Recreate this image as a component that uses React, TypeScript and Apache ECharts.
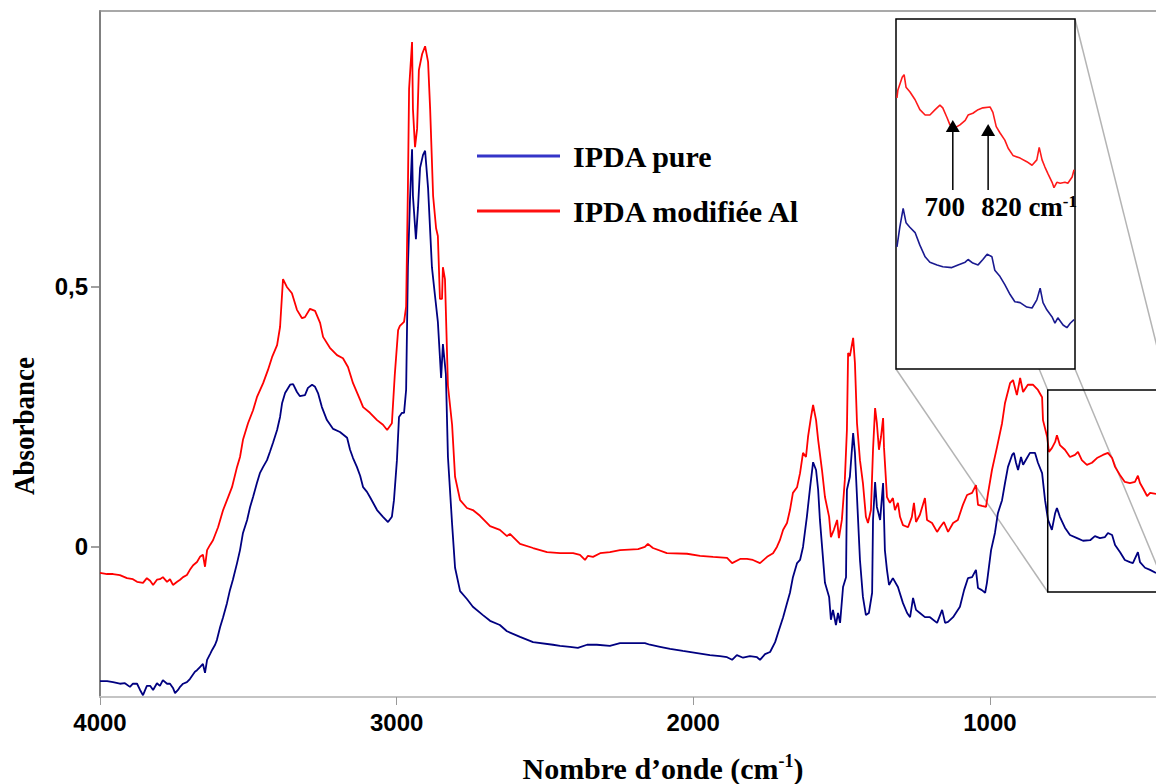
import React, { useEffect, useRef } from 'react';
import * as echarts from 'echarts';

const SERIF = '"Liberation Serif", "Times New Roman", serif';
const SANS = '"Liberation Sans", Arial, sans-serif';

const seriesNames = ['IPDA pure', 'IPDA modifiée Al'];
const xTicks = [4000, 3000, 2000, 1000];
const yTicks = [0, 0.5];

// [wavenumber cm-1, absorbance]
const pureSpectrum: [number, number][] = [
  [4000,-0.258],[3976,-0.258],[3956,-0.260],[3933,-0.263],[3916,-0.262],[3899,-0.269],[3889,-0.263],[3875,-0.263],[3865,-0.275],[3855,-0.285],[3842,-0.267],[3831,-0.267],[3821,-0.275],[3808,-0.262],[3798,-0.267],[3788,-0.256],[3774,-0.263],[3764,-0.263],[3754,-0.271],[3747,-0.281],[3737,-0.275],[3730,-0.269],[3720,-0.263],[3707,-0.260],[3697,-0.254],[3690,-0.248],[3680,-0.240],[3673,-0.237],[3663,-0.231],[3653,-0.225],[3646,-0.242],[3639,-0.217],[3629,-0.206],[3622,-0.198],[3612,-0.188],[3606,-0.179],[3595,-0.154],[3585,-0.135],[3572,-0.108],[3562,-0.083],[3552,-0.063],[3538,-0.031],[3528,-0.006],[3518,0.027],[3504,0.052],[3494,0.077],[3484,0.096],[3471,0.123],[3461,0.142],[3450,0.154],[3437,0.167],[3427,0.183],[3417,0.200],[3403,0.225],[3393,0.250],[3386,0.277],[3376,0.296],[3359,0.312],[3349,0.313],[3336,0.298],[3326,0.290],[3309,0.292],[3299,0.306],[3285,0.312],[3275,0.308],[3265,0.296],[3252,0.269],[3235,0.244],[3214,0.227],[3191,0.221],[3167,0.210],[3157,0.187],[3147,0.171],[3134,0.154],[3123,0.137],[3113,0.115],[3100,0.106],[3090,0.096],[3066,0.071],[3046,0.058],[3029,0.048],[3016,0.058],[3009,0.090],[2999,0.167],[2992,0.250],[2982,0.258],[2975,0.258],[2968,0.302],[2962,0.538],[2955,0.667],[2948,0.765],[2945,0.675],[2935,0.592],[2928,0.652],[2921,0.729],[2911,0.754],[2904,0.762],[2894,0.690],[2881,0.538],[2871,0.485],[2861,0.433],[2850,0.325],[2844,0.390],[2834,0.333],[2827,0.173],[2813,0.044],[2803,-0.040],[2786,-0.085],[2763,-0.100],[2743,-0.115],[2709,-0.131],[2685,-0.142],[2652,-0.150],[2628,-0.162],[2584,-0.173],[2540,-0.183],[2473,-0.188],[2449,-0.190],[2416,-0.192],[2389,-0.194],[2358,-0.188],[2325,-0.188],[2281,-0.190],[2247,-0.185],[2203,-0.185],[2163,-0.185],[2146,-0.188],[2112,-0.192],[2078,-0.196],[2035,-0.200],[1987,-0.204],[1944,-0.208],[1910,-0.210],[1886,-0.212],[1869,-0.217],[1853,-0.208],[1832,-0.213],[1809,-0.210],[1785,-0.212],[1775,-0.217],[1758,-0.206],[1741,-0.202],[1724,-0.183],[1714,-0.165],[1697,-0.135],[1684,-0.108],[1674,-0.088],[1664,-0.058],[1650,-0.031],[1640,-0.025],[1630,0.000],[1617,0.058],[1606,0.115],[1596,0.163],[1586,0.148],[1579,0.110],[1573,0.052],[1563,-0.019],[1556,-0.069],[1542,-0.096],[1536,-0.140],[1529,-0.121],[1519,-0.150],[1512,-0.127],[1505,-0.146],[1495,-0.077],[1485,-0.058],[1482,0.110],[1472,0.135],[1461,0.219],[1455,0.181],[1448,0.096],[1438,-0.025],[1428,-0.096],[1418,-0.131],[1408,-0.127],[1397,-0.088],[1394,0.052],[1387,0.125],[1381,0.077],[1370,0.052],[1360,0.123],[1354,-0.006],[1347,-0.044],[1340,-0.073],[1327,-0.060],[1310,-0.077],[1293,-0.108],[1279,-0.127],[1269,-0.135],[1259,-0.098],[1249,-0.121],[1236,-0.127],[1219,-0.135],[1202,-0.135],[1178,-0.146],[1161,-0.121],[1151,-0.146],[1141,-0.144],[1124,-0.135],[1101,-0.115],[1087,-0.083],[1074,-0.060],[1060,-0.058],[1047,-0.044],[1040,-0.079],[1027,-0.083],[1016,-0.088],[1010,-0.069],[996,-0.006],[983,0.027],[973,0.065],[959,0.090],[949,0.123],[939,0.154],[925,0.177],[919,0.181],[912,0.162],[905,0.148],[895,0.173],[888,0.158],[875,0.171],[865,0.181],[848,0.181],[838,0.162],[824,0.142],[814,0.090],[804,0.052],[791,0.033],[780,0.065],[774,0.075],[764,0.058],[747,0.037],[730,0.023],[706,0.017],[686,0.012],[662,0.013],[646,0.021],[629,0.017],[612,0.019],[602,0.027],[588,0.023],[578,0.004],[561,-0.010],[545,-0.025],[528,-0.029],[518,-0.031],[501,-0.010],[494,-0.029],[477,-0.040],[460,-0.044],[440,-0.050],
];

const modifiedSpectrum: [number, number][] = [
  [4000,-0.050],[3976,-0.052],[3956,-0.052],[3933,-0.054],[3909,-0.060],[3889,-0.062],[3875,-0.067],[3855,-0.069],[3842,-0.060],[3831,-0.065],[3821,-0.073],[3808,-0.063],[3798,-0.062],[3788,-0.058],[3774,-0.067],[3764,-0.062],[3754,-0.073],[3740,-0.067],[3730,-0.063],[3720,-0.058],[3707,-0.054],[3697,-0.044],[3686,-0.035],[3673,-0.029],[3663,-0.019],[3653,-0.015],[3646,-0.038],[3639,-0.006],[3629,0.004],[3619,0.013],[3602,0.038],[3585,0.071],[3568,0.096],[3555,0.115],[3538,0.154],[3528,0.173],[3518,0.206],[3501,0.238],[3484,0.263],[3471,0.288],[3450,0.315],[3434,0.340],[3420,0.365],[3403,0.388],[3393,0.423],[3386,0.488],[3383,0.515],[3370,0.500],[3353,0.488],[3336,0.456],[3319,0.440],[3309,0.442],[3292,0.458],[3275,0.454],[3258,0.431],[3248,0.404],[3225,0.383],[3201,0.369],[3181,0.363],[3164,0.346],[3147,0.315],[3123,0.283],[3113,0.269],[3090,0.258],[3066,0.244],[3046,0.235],[3032,0.225],[3016,0.238],[3006,0.333],[2995,0.417],[2989,0.425],[2975,0.433],[2968,0.462],[2962,0.690],[2958,0.881],[2948,0.971],[2945,0.842],[2938,0.769],[2931,0.804],[2925,0.917],[2914,0.948],[2904,0.963],[2894,0.933],[2887,0.842],[2877,0.675],[2867,0.613],[2861,0.598],[2854,0.477],[2847,0.477],[2844,0.538],[2837,0.515],[2827,0.310],[2813,0.235],[2803,0.135],[2786,0.090],[2763,0.075],[2743,0.071],[2719,0.060],[2685,0.040],[2652,0.033],[2628,0.021],[2618,0.025],[2584,0.006],[2540,-0.002],[2493,-0.010],[2449,-0.012],[2405,-0.012],[2382,-0.015],[2365,-0.025],[2355,-0.017],[2338,-0.019],[2314,-0.012],[2281,-0.010],[2247,-0.006],[2186,-0.004],[2163,0.000],[2153,0.006],[2136,-0.002],[2089,-0.012],[2021,-0.013],[1977,-0.017],[1933,-0.019],[1886,-0.021],[1869,-0.031],[1842,-0.023],[1819,-0.023],[1799,-0.025],[1775,-0.031],[1751,-0.019],[1731,-0.012],[1718,0.000],[1708,0.013],[1697,0.033],[1684,0.046],[1674,0.071],[1664,0.104],[1650,0.115],[1640,0.142],[1630,0.181],[1620,0.173],[1613,0.212],[1603,0.250],[1596,0.273],[1586,0.244],[1579,0.206],[1566,0.148],[1556,0.096],[1542,0.058],[1536,0.019],[1526,0.033],[1515,0.052],[1509,0.017],[1499,0.052],[1489,0.129],[1482,0.225],[1478,0.373],[1472,0.367],[1461,0.402],[1455,0.354],[1448,0.238],[1438,0.167],[1428,0.123],[1418,0.058],[1411,0.046],[1401,0.071],[1394,0.187],[1387,0.267],[1381,0.238],[1374,0.187],[1367,0.212],[1360,0.248],[1357,0.192],[1347,0.096],[1337,0.085],[1327,0.094],[1320,0.071],[1310,0.085],[1303,0.058],[1293,0.042],[1276,0.038],[1263,0.058],[1256,0.085],[1249,0.048],[1236,0.062],[1219,0.094],[1212,0.052],[1195,0.046],[1178,0.029],[1168,0.038],[1155,0.048],[1141,0.029],[1124,0.046],[1108,0.052],[1091,0.081],[1077,0.100],[1060,0.104],[1047,0.119],[1040,0.081],[1027,0.079],[1013,0.077],[1006,0.104],[993,0.148],[976,0.192],[959,0.238],[949,0.277],[932,0.315],[922,0.321],[909,0.292],[898,0.325],[888,0.298],[872,0.312],[855,0.312],[838,0.302],[824,0.288],[821,0.244],[807,0.212],[801,0.183],[791,0.190],[780,0.202],[774,0.215],[764,0.196],[747,0.187],[730,0.173],[713,0.177],[703,0.183],[690,0.167],[673,0.158],[656,0.162],[639,0.171],[619,0.177],[602,0.181],[588,0.171],[578,0.154],[561,0.138],[545,0.125],[528,0.123],[511,0.125],[501,0.137],[494,0.123],[484,0.113],[470,0.098],[460,0.104],[440,0.102],
];

// Inset (enlarged low-wavenumber region)
const insetPure: [number, number][] = [
  [803,0.046],[797,0.068],[790,0.089],[784,0.073],[776,0.068],[765,0.062],[755,0.048],[744,0.035],[734,0.029],[719,0.026],[707,0.024],[688,0.023],[675,0.026],[660,0.029],[654,0.032],[644,0.028],[633,0.026],[623,0.032],[614,0.038],[604,0.035],[598,0.020],[587,0.013],[577,0.004],[566,-0.007],[556,-0.015],[545,-0.016],[531,-0.021],[520,-0.022],[510,-0.013],[503,0.000],[497,-0.016],[489,-0.024],[478,-0.032],[472,-0.039],[466,-0.033],[455,-0.041],[447,-0.044],[440,-0.039],[432,-0.035],
];
const insetModified: [number, number][] = [
  [803,0.212],[801,0.221],[792,0.235],[788,0.238],[784,0.224],[776,0.219],[765,0.210],[755,0.199],[744,0.193],[734,0.193],[723,0.199],[713,0.204],[707,0.201],[698,0.190],[692,0.182],[681,0.179],[671,0.182],[660,0.187],[654,0.193],[644,0.195],[633,0.199],[623,0.201],[608,0.202],[602,0.196],[595,0.180],[587,0.173],[577,0.165],[570,0.156],[560,0.148],[545,0.145],[531,0.141],[520,0.137],[510,0.143],[505,0.157],[499,0.143],[493,0.135],[487,0.128],[478,0.118],[474,0.112],[468,0.118],[461,0.117],[451,0.118],[445,0.117],[436,0.124],[432,0.132],
];

const zoomBox = { xFrom: 805, xTo: 400, yTop: 0.302, yBottom: -0.0865 };
const insetRange = { xFrom: 805, xTo: 430, yMin: -0.09, yMax: 0.30 };
const annotationX = [686, 612];
const annotationTip = [0.1875, 0.183];
const annotationTail = [0.1095, 0.1095];
const annotationText = ['{a|700}', '{a|820 cm}{s|-1}'];

export default function App() {
  const ref = useRef<HTMLDivElement>(null);
  useEffect(() => {
    if (!ref.current) return;
    const chart = echarts.init(ref.current, null, { renderer: 'svg' });
    const tickLabel = { fontFamily: SANS, fontWeight: 'bold' as const, fontSize: 24, color: '#000' };
    chart.setOption({
      animation: false,
      backgroundColor: '#ffffff',
      grid: [
        { left: 100, top: 11, right: 0, bottom: 87 },
        { left: 896, top: 19, width: 179, height: 350 },
      ],
      xAxis: [
        {
          type: 'value', gridIndex: 0, min: 440, max: 4000, inverse: true, position: 'bottom',
          axisLine: { show: true, onZero: false, lineStyle: { color: '#c4c4c4', width: 2 } },
          axisTick: { show: true, customValues: xTicks, length: 8, lineStyle: { color: '#999', width: 1 } },
          axisLabel: { customValues: xTicks, margin: 13, formatter: (v: number) => String(v), ...tickLabel },
          splitLine: { show: false },
        },
        {
          type: 'value', gridIndex: 0, min: 440, max: 4000, inverse: true, position: 'top',
          axisLine: { show: true, onZero: false, lineStyle: { color: '#8c8c8c', width: 1.5 } },
          axisTick: { show: false }, axisLabel: { show: false }, splitLine: { show: false },
        },
        { type: 'value', gridIndex: 1, min: insetRange.xTo, max: insetRange.xFrom, inverse: true, show: false, splitLine: { show: false } },
      ],
      yAxis: [
        {
          type: 'value', gridIndex: 0, min: -0.2885, max: 1.0307,
          axisLine: { show: true, onZero: false, lineStyle: { color: '#808080', width: 2 } },
          axisTick: { show: true, customValues: yTicks, length: 9, lineStyle: { color: '#808080', width: 1.5 } },
          axisLabel: { customValues: yTicks, margin: 12, formatter: (v: number) => String(v).replace('.', ','), ...tickLabel },
          splitLine: { show: false },
        },
        { type: 'value', gridIndex: 1, min: insetRange.yMin, max: insetRange.yMax, show: false, splitLine: { show: false } },
      ],
      legend: {
        orient: 'vertical', left: 477, top: 141, padding: 0, itemWidth: 83, itemHeight: 3, itemGap: 25,
        icon: 'rect', selectedMode: false,
        data: [
          { name: seriesNames[0], itemStyle: { color: '#3535c8' } },
          { name: seriesNames[1], itemStyle: { color: '#ff1010' } },
        ],
        textStyle: { fontFamily: SERIF, fontWeight: 'bold', fontSize: 30, color: '#000', padding: [0, 0, 0, 8] },
      },
      series: [
        { name: seriesNames[0], type: 'line', xAxisIndex: 0, yAxisIndex: 0, data: pureSpectrum, symbol: 'none', showSymbol: false, silent: true, z: 2, lineStyle: { color: '#000080', width: 1.8 }, itemStyle: { color: '#000080' } },
        { name: seriesNames[1], type: 'line', xAxisIndex: 0, yAxisIndex: 0, data: modifiedSpectrum, symbol: 'none', showSymbol: false, silent: true, z: 2, lineStyle: { color: '#ff0000', width: 1.8 }, itemStyle: { color: '#ff0000' } },
        { name: seriesNames[0] + ' (zoom)', type: 'line', xAxisIndex: 2, yAxisIndex: 1, data: insetPure, symbol: 'none', showSymbol: false, silent: true, z: 5, lineStyle: { color: '#1a1a90', width: 1.6 } },
        { name: seriesNames[1] + ' (zoom)', type: 'line', xAxisIndex: 2, yAxisIndex: 1, data: insetModified, symbol: 'none', showSymbol: false, silent: true, z: 5, lineStyle: { color: '#ff1a1a', width: 1.6 } },
      ],
    });

    const tl = chart.convertToPixel({ gridIndex: 0 }, [zoomBox.xFrom, zoomBox.yTop]) as number[];
    const br = chart.convertToPixel({ gridIndex: 0 }, [zoomBox.xTo, zoomBox.yBottom]) as number[];
    const itl = chart.convertToPixel({ gridIndex: 1 }, [insetRange.xFrom, insetRange.yMax]) as number[];
    const ibr = chart.convertToPixel({ gridIndex: 1 }, [insetRange.xTo, insetRange.yMin]) as number[];

    const connector = (x1: number, y1: number, x2: number, y2: number) => ({
      type: 'line', silent: true, z: 1,
      shape: { x1, y1, x2, y2 },
      style: { stroke: '#b4b4b4', lineWidth: 1.5 },
    });

    const elements: any[] = [
      connector(itl[0], itl[1], tl[0], tl[1]),
      connector(ibr[0], itl[1], br[0], tl[1]),
      connector(itl[0], ibr[1], tl[0], br[1]),
      connector(ibr[0], ibr[1], br[0], br[1]),
      {
        type: 'rect', z: 3, silent: true,
        shape: { x: itl[0], y: itl[1], width: ibr[0] - itl[0], height: ibr[1] - itl[1] },
        style: { fill: '#ffffff', stroke: '#000000', lineWidth: 1.5 },
      },
      {
        type: 'rect', z: 3, silent: true,
        shape: { x: tl[0], y: tl[1], width: br[0] - tl[0], height: br[1] - tl[1] },
        style: { fill: 'none', stroke: '#000000', lineWidth: 1.5 },
      },
      {
        type: 'text', x: 24, y: 426, rotation: Math.PI / 2, scaleX: 0.9, silent: true, z: 10,
        style: { text: 'Absorbance', fontFamily: SERIF, fontWeight: 'bold', fontSize: 30, fill: '#000', align: 'center', verticalAlign: 'middle' },
      },
      {
        type: 'text', x: 663, y: 768, silent: true, z: 10,
        style: {
          text: '{a|Nombre d’onde (cm}{s|-1}{a|)}',
          align: 'center', verticalAlign: 'middle',
          rich: {
            a: { fontFamily: SERIF, fontWeight: 'bold', fontSize: 30, lineHeight: 32, fill: '#000' },
            s: { fontFamily: SERIF, fontWeight: 'bold', fontSize: 18, lineHeight: 18, fill: '#000', verticalAlign: 'top' },
          },
        },
      },
    ];

    annotationX.forEach((ax, i) => {
      const tip = chart.convertToPixel({ gridIndex: 1 }, [ax, annotationTip[i]]) as number[];
      const tail = chart.convertToPixel({ gridIndex: 1 }, [ax, annotationTail[i]]) as number[];
      elements.push({
        type: 'line', z: 10, silent: true,
        shape: { x1: tail[0], y1: tail[1], x2: tip[0], y2: tip[1] + 11 },
        style: { stroke: '#000', lineWidth: 1.5 },
      });
      elements.push({
        type: 'polygon', z: 10, silent: true,
        shape: { points: [[tip[0], tip[1]], [tip[0] - 7, tip[1] + 12], [tip[0] + 7, tip[1] + 12]] },
        style: { fill: '#000' },
      });
      elements.push({
        type: 'text', z: 10, silent: true,
        x: i === 0 ? tail[0] - 8 : tail[0] - 7, y: tail[1] + 17,
        style: {
          text: annotationText[i],
          align: i === 0 ? 'center' : 'left', verticalAlign: 'middle',
          rich: {
            a: { fontFamily: SERIF, fontWeight: 'bold', fontSize: 27, lineHeight: 28, fill: '#000' },
            s: { fontFamily: SERIF, fontWeight: 'bold', fontSize: 17, lineHeight: 17, fill: '#000', verticalAlign: 'top' },
          },
        },
      });
    });

    chart.setOption({ graphic: { elements } });

    return () => chart.dispose();
  }, []);

  return (
    <div
      ref={ref}
      style={{ position: 'absolute', left: 0, top: 0, width: 1156, height: 784, background: '#fff' }}
    />
  );
}
